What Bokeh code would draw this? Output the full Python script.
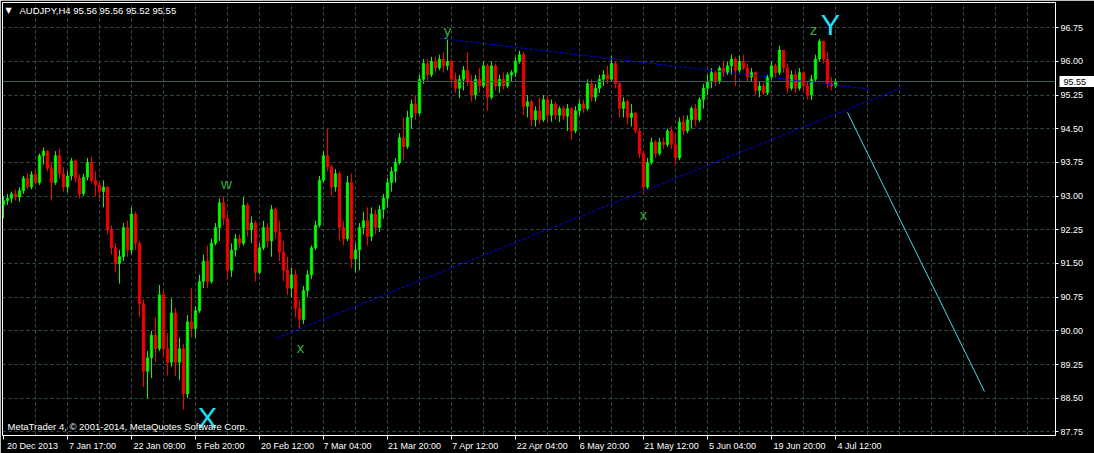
from bokeh.plotting import figure
from bokeh.models import (FixedTicker, Label, Span, ColumnDataSource, NumeralTickFormatter,
                          Range1d, LinearAxis)
from bokeh.embed import file_html
from bokeh.resources import INLINE

# ---------------- data ----------------
symbol_line = "AUDJPY,H4  95.56 95.56 95.52 95.55"
copyright_text = "MetaTrader 4, \u00a9 2001-2014, MetaQuotes Software Corp."
bid_price = 95.55

opens = [
    92.80, 92.90, 92.95, 93.05, 92.98, 93.12, 93.40, 93.20, 93.48, 93.30,
    93.90, 94.00, 93.62, 93.30, 93.90, 93.50, 93.20, 93.45, 93.78, 93.40,
    93.05, 93.42, 93.75, 93.35, 93.25, 93.10, 93.20, 92.25, 91.85, 91.50,
    91.65, 92.30, 91.80, 92.60, 91.95, 90.60, 89.10, 89.40, 89.90, 89.60,
    90.80, 89.60, 89.30, 90.40, 89.30, 89.60, 88.60, 90.20, 90.05, 90.45,
    91.10, 91.55, 91.10, 91.95, 92.30, 92.85, 92.50, 91.35, 91.80, 92.05,
    91.95, 92.80, 92.25, 92.40, 91.30, 91.85, 92.30, 92.00, 92.70, 92.20,
    91.75, 91.35, 90.95, 91.25, 90.50, 90.25, 90.90, 91.25, 91.85, 92.35,
    93.35, 93.90, 93.65, 93.20, 93.50, 92.30, 92.05, 93.30, 91.60, 91.80,
    92.30, 92.45, 92.10, 92.60, 92.30, 92.70, 92.95, 93.30, 93.55, 93.75,
    94.30, 94.10, 94.75, 95.05, 94.85, 95.60, 95.95, 95.70, 96.00, 95.85,
    96.05, 95.90, 96.00, 95.60, 95.40, 95.60, 95.80, 95.55, 95.25, 95.60,
    95.45, 95.90, 95.20, 95.90, 95.45, 95.60, 95.45, 95.70, 95.75, 96.00,
    96.15, 95.00, 95.10, 94.70, 94.90, 94.70, 95.15, 94.80, 95.05, 94.80,
    94.95, 94.78, 94.95, 94.45, 94.90, 95.05, 94.95, 95.50, 95.20, 95.40,
    95.60, 95.70, 95.60, 95.95, 95.50, 94.95, 95.10, 94.75, 94.85, 94.45,
    93.95, 93.20, 93.75, 94.20, 93.95, 94.20, 94.15, 94.45, 94.15, 93.85,
    94.65, 94.45, 94.70, 94.95, 94.70, 95.15, 95.40, 95.55, 95.75, 95.55,
    95.85, 95.75, 95.90, 96.05, 95.80, 96.00, 95.85, 95.65, 95.75, 95.35,
    95.45, 95.30, 95.65, 95.90, 95.75, 96.25, 95.85, 95.40, 95.70, 95.40,
    95.75, 95.45, 95.25, 95.60, 96.05, 96.45, 96.05, 95.50, 95.45,
]
highs = [
    93.00, 93.05, 93.10, 93.15, 93.20, 93.45, 93.50, 93.55, 93.60, 93.95,
    94.08, 94.02, 93.75, 94.00, 94.05, 93.65, 93.55, 93.85, 93.82, 93.48,
    93.50, 93.85, 93.88, 93.55, 93.30, 93.35, 93.22, 92.35, 91.95, 91.80,
    92.40, 92.45, 92.75, 92.65, 92.00, 90.70, 89.55, 90.00, 90.30, 91.02,
    90.90, 89.95, 90.72, 90.50, 89.85, 89.70, 90.35, 90.95, 90.55, 91.25,
    91.70, 91.90, 92.05, 92.40, 92.95, 93.00, 92.60, 91.95, 92.15, 92.15,
    92.98, 92.85, 92.55, 92.45, 91.95, 92.45, 92.40, 92.80, 92.75, 92.45,
    92.00, 91.65, 91.40, 91.35, 90.70, 91.00, 91.35, 91.90, 92.45, 93.45,
    94.00, 94.50, 93.70, 93.60, 93.55, 92.45, 93.45, 93.50, 91.95, 92.40,
    92.65, 92.75, 92.75, 92.70, 92.80, 93.05, 93.40, 93.65, 93.85, 94.40,
    94.75, 94.90, 95.15, 95.25, 95.70, 96.05, 96.05, 96.10, 96.10, 96.15,
    96.20, 96.50, 96.05, 95.75, 95.70, 95.90, 96.20, 95.70, 95.70, 95.85,
    96.00, 95.95, 96.00, 95.95, 95.70, 95.75, 95.75, 95.80, 96.10, 96.24,
    96.20, 95.25, 95.15, 95.00, 95.20, 95.25, 95.25, 95.15, 95.10, 95.00,
    95.00, 95.05, 94.98, 95.00, 95.15, 95.15, 95.60, 95.60, 95.50, 95.70,
    95.80, 95.90, 96.12, 96.00, 95.55, 95.20, 95.15, 95.05, 94.88, 94.50,
    94.00, 93.85, 94.30, 94.25, 94.30, 94.30, 94.50, 94.55, 94.40, 94.75,
    94.80, 94.80, 95.00, 95.05, 95.20, 95.50, 95.70, 95.85, 95.80, 95.90,
    96.00, 96.00, 96.15, 96.10, 96.12, 96.15, 95.95, 95.85, 95.78, 95.55,
    95.52, 95.70, 96.00, 95.95, 96.35, 96.25, 95.95, 95.80, 95.80, 95.85,
    95.78, 95.55, 95.70, 96.15, 96.50, 96.45, 96.20, 95.65, 95.62,
]
lows = [
    92.50, 92.80, 92.85, 92.90, 92.88, 93.05, 93.15, 93.15, 93.25, 93.25,
    93.70, 93.55, 92.90, 93.25, 93.40, 93.10, 93.08, 93.35, 93.30, 92.95,
    93.00, 93.35, 93.30, 93.00, 92.95, 92.75, 92.15, 91.70, 91.30, 91.05,
    91.55, 91.65, 91.70, 91.80, 90.30, 88.75, 88.50, 88.95, 89.30, 89.55,
    89.40, 89.00, 89.20, 89.00, 88.90, 88.25, 88.50, 89.85, 89.85, 90.40,
    90.95, 90.95, 91.05, 91.90, 92.00, 92.35, 91.15, 91.20, 91.65, 91.85,
    91.90, 92.10, 91.95, 91.10, 91.25, 91.80, 91.85, 91.65, 92.05, 91.55,
    91.10, 90.80, 90.75, 90.30, 90.05, 90.15, 90.75, 91.15, 91.80, 92.30,
    93.30, 93.55, 93.00, 93.10, 92.00, 91.90, 92.00, 91.40, 91.30, 91.35,
    92.15, 91.90, 92.00, 92.15, 92.20, 92.50, 92.75, 93.10, 93.30, 93.70,
    93.80, 94.05, 94.50, 94.70, 94.80, 95.50, 95.55, 95.65, 95.75, 95.80,
    95.75, 95.80, 95.50, 95.30, 95.18, 95.35, 95.45, 95.10, 95.15, 95.30,
    95.40, 94.90, 95.15, 95.35, 95.30, 95.38, 95.40, 95.55, 95.65, 95.95,
    94.80, 94.75, 94.55, 94.55, 94.60, 94.65, 94.65, 94.65, 94.70, 94.65,
    94.70, 94.45, 94.25, 94.40, 94.80, 94.85, 94.90, 95.10, 95.10, 95.30,
    95.45, 95.50, 95.55, 95.40, 94.75, 94.75, 94.60, 94.55, 94.40, 93.85,
    93.04, 93.15, 93.70, 93.85, 93.90, 94.05, 94.10, 94.05, 93.68, 93.80,
    94.35, 94.40, 94.50, 94.55, 94.65, 94.95, 95.25, 95.40, 95.45, 95.50,
    95.65, 95.70, 95.70, 95.45, 95.75, 95.80, 95.55, 95.55, 95.25, 95.20,
    95.25, 95.25, 95.60, 95.65, 95.70, 95.75, 95.30, 95.35, 95.30, 95.35,
    95.35, 95.15, 95.14, 95.55, 96.00, 95.95, 95.40, 95.35, 95.40,
]
closes = [
    92.90, 92.95, 93.05, 92.98, 93.12, 93.40, 93.20, 93.48, 93.30, 93.90,
    94.00, 93.62, 93.30, 93.90, 93.50, 93.20, 93.45, 93.78, 93.40, 93.05,
    93.42, 93.75, 93.35, 93.25, 93.10, 93.20, 92.25, 91.85, 91.50, 91.65,
    92.30, 91.80, 92.60, 91.95, 90.60, 89.10, 89.40, 89.90, 89.60, 90.80,
    89.60, 89.30, 90.40, 89.30, 89.60, 88.60, 90.20, 90.05, 90.45, 91.10,
    91.55, 91.10, 91.95, 92.30, 92.85, 92.50, 91.35, 91.80, 92.05, 91.95,
    92.80, 92.25, 92.40, 91.30, 91.85, 92.30, 92.00, 92.70, 92.20, 91.75,
    91.35, 90.95, 91.25, 90.50, 90.25, 90.90, 91.25, 91.85, 92.35, 93.35,
    93.90, 93.65, 93.20, 93.50, 92.30, 92.05, 93.30, 91.60, 91.80, 92.30,
    92.45, 92.10, 92.60, 92.30, 92.70, 92.95, 93.30, 93.55, 93.75, 94.30,
    94.10, 94.75, 95.05, 94.85, 95.60, 95.95, 95.70, 96.00, 95.85, 96.05,
    95.90, 96.00, 95.60, 95.40, 95.60, 95.80, 95.55, 95.25, 95.60, 95.45,
    95.90, 95.20, 95.90, 95.45, 95.60, 95.45, 95.70, 95.75, 96.00, 96.15,
    95.00, 95.10, 94.70, 94.90, 94.70, 95.15, 94.80, 95.05, 94.80, 94.95,
    94.78, 94.95, 94.45, 94.90, 95.05, 94.95, 95.50, 95.20, 95.40, 95.60,
    95.70, 95.60, 95.95, 95.50, 94.95, 95.10, 94.75, 94.85, 94.45, 93.95,
    93.20, 93.75, 94.20, 93.95, 94.20, 94.15, 94.45, 94.15, 93.85, 94.65,
    94.45, 94.70, 94.95, 94.70, 95.15, 95.40, 95.55, 95.75, 95.55, 95.85,
    95.75, 95.90, 96.05, 95.80, 96.00, 95.85, 95.65, 95.75, 95.35, 95.45,
    95.30, 95.65, 95.90, 95.75, 96.25, 95.85, 95.40, 95.70, 95.40, 95.75,
    95.45, 95.25, 95.60, 96.05, 96.45, 96.05, 95.50, 95.45, 95.55,
]

# one drawn candle every 4 H4 bars; x is the H4 bar number from 20 Dec 2013
bars_per_candle = 4

price_ticks = [87.75, 88.50, 89.25, 90.00, 90.75, 91.50, 92.25, 93.00,
               93.75, 94.50, 95.25, 96.00, 96.75]
time_label_bars = [0, 64, 128, 192, 256, 320, 384, 448, 512, 576, 640, 704, 768, 832]
time_labels = ["20 Dec 2013", "7 Jan 17:00", "22 Jan 09:00", "5 Feb 20:00",
               "20 Feb 12:00", "7 Mar 04:00", "21 Mar 20:00", "7 Apr 12:00",
               "22 Apr 04:00", "6 May 20:00", "21 May 12:00", "5 Jun 04:00",
               "19 Jun 20:00", "4 Jul 12:00"]

# trend lines: (bar, price) anchors
support_bars = [273, 899]
support_prices = [89.84, 95.42]
resist_bars = [437, 866]
resist_prices = [96.51, 95.38]
target_bars = [844, 981]
target_prices = [94.86, 88.65]

# wave labels: (text, bar, price)
wave_small = [("w", 223, 93.27), ("x", 297, 89.62), ("y", 444, 96.69),
              ("x", 640, 92.60), ("z", 810, 96.72)]
wave_big = [("X", 204, 88.05), ("Y", 827, 96.82)]

# ---------------- figure ----------------
BG = "black"
GRID = "#34504F"
UP = "#00FF00"
DOWN = "#FF0000"
WAVE_GREEN = "#36AA36"
WAVE_CYAN = "#20E0F8"
FONT = "Liberation Sans"
AXIS_FS = "9px"

p = figure(width=1094, height=453, output_backend="svg", toolbar_location=None,
           x_range=Range1d(-1, 1052), y_range=Range1d(87.67, 97.31),
           y_axis_location="right", x_axis_location="below",
           background_fill_color=BG, border_fill_color=BG,
           outline_line_color="white", outline_line_width=1,
           min_border_left=2, min_border_top=2, min_border_right=39,
           min_border_bottom=17)

# grid
p.xgrid.ticker = FixedTicker(ticks=list(range(32, 1052, 32)))
p.ygrid.ticker = FixedTicker(ticks=price_ticks)
for g in (p.xgrid, p.ygrid):
    g.grid_line_color = GRID
    g.grid_line_dash = "3 3"
    g.grid_line_width = 1

# ---- price scale (right) ----
ya = p.yaxis[0]
ya.ticker = FixedTicker(ticks=price_ticks)
ya.formatter = NumeralTickFormatter(format="0.00")
ya.axis_line_color = "white"
ya.major_tick_line_color = "white"
ya.minor_tick_line_color = None
ya.major_tick_in = 0
ya.major_tick_out = 3
ya.major_label_standoff = 2
ya.major_label_text_color = "white"
ya.major_label_text_font = FONT
ya.major_label_text_font_size = AXIS_FS

# current-price marker: a second price axis whose single thick tick forms the white box
# (drawn back over the first axis) and whose label is pulled back onto that box
bid_axis = LinearAxis(ticker=FixedTicker(ticks=[bid_price]),
                      formatter=NumeralTickFormatter(format="0.00"),
                      axis_line_color=None, minor_tick_line_color=None,
                      major_tick_line_color="white", major_tick_line_width=11,
                      major_tick_in=27, major_tick_out=10,
                      major_label_standoff=-33, major_label_text_color="black",
                      major_label_text_font=FONT, major_label_text_font_size=AXIS_FS)
p.add_layout(bid_axis, "right")

# ---- time scale (below): tick marks at the times, texts starting at each tick ----
def _text_px(s, fs=9.0):
    w = 0.0
    for ch in s:
        if ch.isdigit():
            w += 0.556
        elif ch in " :":
            w += 0.278
        elif ch.isupper():
            w += 0.667
        elif ch in "lij":
            w += 0.25
        elif ch == "r":
            w += 0.333
        else:
            w += 0.53
    return w * fs

starts = [b + (4 if k == 0 else 1) for k, b in enumerate(time_label_bars)]
centres = [int(round(s + _text_px(t) / 2)) for s, t in zip(starts, time_labels)]
xa = p.xaxis[0]
xa.ticker = FixedTicker(ticks=centres, minor_ticks=time_label_bars)
xa.major_label_overrides = {c: t for c, t in zip(centres, time_labels)}
xa.axis_line_color = "white"
xa.major_tick_line_color = None
xa.major_tick_in = 0
xa.major_tick_out = 4
xa.minor_tick_line_color = "white"
xa.minor_tick_in = 0
xa.minor_tick_out = 4
xa.major_label_standoff = 1
xa.major_label_text_color = "white"
xa.major_label_text_font = FONT
xa.major_label_text_font_size = AXIS_FS

# bid line
p.add_layout(Span(location=bid_price, dimension="width", line_color="#3E6060", line_width=1))

# candles
xs = [i * bars_per_candle for i in range(len(closes))]
colors = [UP if c >= o else DOWN for o, c in zip(opens, closes)]
src = ColumnDataSource(dict(
    x=xs, h=highs, l=lows, color=colors,
    top=[max(o, c) for o, c in zip(opens, closes)],
    bottom=[min(o, c) for o, c in zip(opens, closes)],
))
p.segment(x0="x", y0="l", x1="x", y1="h", line_color="color", line_width=1, source=src)
p.vbar(x="x", width=2.6, top="top", bottom="bottom", fill_color="color",
       line_color="color", line_width=0.5, source=src)

# trend lines
p.line(support_bars, support_prices, line_color="#0000FF", line_width=1, line_dash="3 2")
p.line(resist_bars, resist_prices, line_color="#0000FF", line_width=1, line_dash="3 2")
p.line(target_bars, target_prices, line_color="#48D8E8", line_width=1)

# wave labels
for t, b, pr in wave_small:
    p.add_layout(Label(x=b, y=pr, text=t, text_color=WAVE_GREEN, text_font=FONT,
                       text_font_size="15px", text_align="center", text_baseline="middle"))
for t, b, pr in wave_big:
    p.add_layout(Label(x=b, y=pr, text=t, text_color=WAVE_CYAN, text_font=FONT,
                       text_font_size="29px", text_align="center", text_baseline="middle"))

# header and footer texts
p.add_layout(Label(x=5, y=97.13, text="\u25BC", text_color="white", text_font="DejaVu Sans",
                   text_font_size="8px", text_align="center", text_baseline="middle"))
p.add_layout(Label(x=16, y=97.13, text=symbol_line, text_color="white", text_font=FONT,
                   text_font_size="9.5px", text_align="left", text_baseline="middle"))
p.add_layout(Label(x=4, y=87.87, text=copyright_text, text_color="white", text_font=FONT,
                   text_font_size="9.5px", text_align="left", text_baseline="middle"))

open("out.html", "w").write(file_html(p, INLINE))
